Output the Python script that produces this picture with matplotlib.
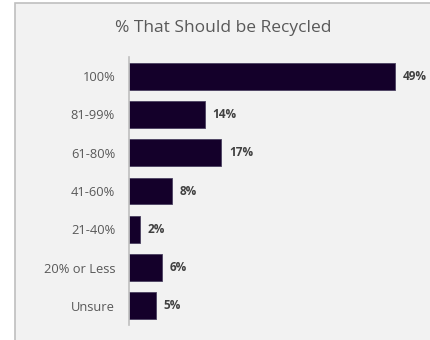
import matplotlib.pyplot as plt
from matplotlib.patches import Rectangle

categories = ["100%", "81-99%", "61-80%", "41-60%", "21-40%", "20% or Less", "Unsure"]
values = [49, 14, 17, 8, 2, 6, 5]
labels = ["49%", "14%", "17%", "8%", "2%", "6%", "5%"]

plt.rcParams["font.family"] = ["Open Sans", "DejaVu Sans"]

fig = plt.figure(figsize=(4.3, 3.4), dpi=100)
fig.patch.set_facecolor("white")

# chart area box
fig.patches.append(Rectangle((15 / 430, -0.1), 1.2, 337 / 340 + 0.1,
                             transform=fig.transFigure, facecolor="#f2f2f2",
                             edgecolor="#bfbfbf", linewidth=1.2, zorder=-10))

ax = fig.add_axes([129 / 430, 15 / 340, 271.5 / 430, 268 / 340])
ax.set_facecolor("none")
ax.set_zorder(5)

y = list(range(len(categories)))
ax.barh(y, values, height=0.7, color="#14002a", edgecolor="#4a4060", linewidth=0.6)
for yi, v, lab in zip(y, values, labels):
    ax.text(v + 1.4, yi, lab, va="center", ha="left", fontsize=8.5,
            fontweight="bold", color="#404040")

ax.set_xlim(0, 50)
ax.set_ylim(len(categories) - 0.5, -0.5)
ax.set_yticks(y)
ax.set_yticklabels(categories, fontsize=9.3, color="#595959")
ax.set_xticks([])
ax.tick_params(axis="y", length=0, pad=10)
for side in ["top", "right", "bottom"]:
    ax.spines[side].set_visible(False)
ax.spines["left"].set_color("#bfbfbf")
ax.spines["left"].set_linewidth(1.2)

fig.text(223 / 430, 1 - 28 / 340, "% That Should be Recycled", ha="center", va="center",
         fontsize=12.5, color="#595959")

fig.savefig("out.png", dpi=100, facecolor=fig.get_facecolor())
